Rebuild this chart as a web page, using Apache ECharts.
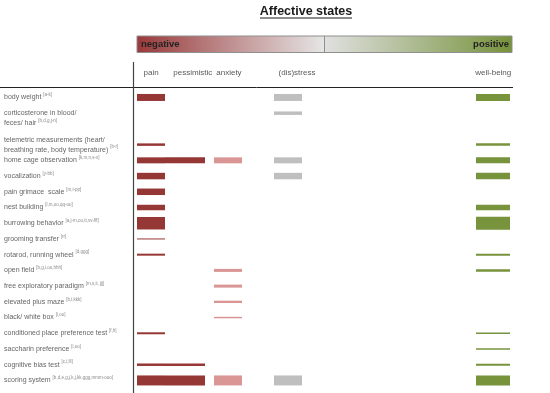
<!DOCTYPE html>
<html><head><meta charset="utf-8">
<script src="https://cdn.jsdelivr.net/npm/echarts@6/dist/echarts.min.js"></script>
<style>html,body{margin:0;padding:0;background:#fff}#c{width:550px;height:393px}</style>
</head><body><div id="c"></div>
<script>
// ---- data ----
const rowLabels = [
  'body weight',
  'corticosterone in blood/\nfeces/ hair',
  '',
  'telemetric measurements (heart/\nbreathing rate, body temperature)',
  'home cage observation',
  'vocalization',
  'pain grimace  scale',
  'nest building',
  'burrowing behavior',
  'grooming transfer',
  'rotarod, running wheel',
  'open field',
  'free exploratory paradigm',
  'elevated plus maze',
  'black/ white box',
  'conditioned place preference test',
  'saccharin preference',
  'cognitive bias test',
  'scoring system'
];
const rowRefs = [
  '[a-k]', '[b,d,g,j-n]', '', '[b-r]', '[k,m,n,s-x]', '[y-bb]', '[m,i-pp]',
  '[l,m,oo,qq-uu]', '[a,j-m,oo,tt,vv-fff]', '[rr]', '[d,ggg]', '[b,g,i,oo,hhh]',
  '[m,s,ii, jjj]', '[b,i,kkk]', '[i,oo]', '[f,h]', '[i,oo]', '[c,i,lll]',
  '[b,d,e,g,j,k,j,kk,ggg,mmm-ooo]'
];
const states = ['pain', 'pessimistic', 'anxiety', '(dis)stress', 'well-being'];
// valence range of each state on the negative (-100) .. positive (+100) scale
const valenceFrom = [-100, -85, -59, -27, 81];
const valenceTo   = [-85, -64, -44, -12, 99];
// evidence weight per row (null = no measure)
const painEvidence        = [7, null, null, 2.5, 6, 6.5, 6.5, 5.5, 12.5, 1, 2, null, null, null, null, 2, null, 2.5, 10];
const pessimisticEvidence = [null, null, null, null, 6, null, null, null, null, null, null, null, null, null, null, null, null, 2.5, 10];
const anxietyEvidence     = [null, null, null, null, 6, null, null, null, null, null, null, 3, 3, 2.3, 1.5, null, null, null, 10];
const distressEvidence    = [7, 3.5, null, null, 6, 6.5, null, null, null, null, null, null, null, null, null, null, null, null, 10];
const wellbeingEvidence   = [7, null, null, 2.5, 6, 6.5, null, 5.5, 13, null, 2, 2.5, null, null, null, 1.5, 1.5, 2, 10];
const evidence = [painEvidence, pessimisticEvidence, anxietyEvidence, distressEvidence, wellbeingEvidence];

// ---- styles ----
const stateColors = ['#953735', '#953735', '#D99694', '#BFBFBF', '#77933C'];
const PX_PER_UNIT = 1;
const FONT = 'Liberation Sans, Arial, sans-serif';
const GRID = { left: 137, right: 38, top: 89.6, bottom: 4.7 };
const headerNudge = [0, 8, 1, 9, 0];

const chart = echarts.init(document.getElementById('c'));

function renderItem(params, api) {
  const row = api.value(0);
  const h = api.value(1) * PX_PER_UNIT;
  const p0 = api.coord([api.value(2), row]);
  const p1 = api.coord([api.value(3), row]);
  const x0 = Math.round(p0[0]), x1 = Math.round(p1[0]);
  return {
    type: 'rect',
    shape: { x: x0, y: p0[1] - h / 2, width: x1 - x0, height: h },
    style: { fill: api.visual('color') }
  };
}

const series = states.map((s, si) => ({
  type: 'custom',
  name: s,
  renderItem,
  dimensions: ['row', 'weight', 'from', 'to'],
  encode: { x: [2, 3], y: 0 },
  itemStyle: { color: stateColors[si] },
  silent: true,
  data: evidence[si]
    .map((w, ri) => (w == null ? null : [ri, w, valenceFrom[si], valenceTo[si]]))
    .filter(d => d)
}));

chart.setOption({
  animation: false,
  grid: GRID,
  xAxis: { type: 'value', min: -100, max: 100, show: false },
  yAxis: {
    type: 'category',
    inverse: true,
    data: rowLabels,
    axisLine: { show: false },
    axisTick: { show: false },
    splitLine: { show: false },
    axisLabel: {
      interval: 0,
      align: 'left',
      margin: GRID.left - 4,
      formatter: function (value, index) {
        const name = rowLabels[index];
        if (!name) return '';
        const lines = name.split('\n');
        const ref = rowRefs[index];
        let out = lines.map((l, i) => '{t|' + l + (i === lines.length - 1 ? ' ' : '') + '}' + (i === lines.length - 1 && ref ? '{s|' + ref + '}' : ''));
        if (index === 1) out.unshift('{t| }');
        return out.join('\n');
      },
      rich: {
        t: { fontSize: 7, lineHeight: 10, color: '#666', fontFamily: FONT },
        s: { fontSize: 4.5, lineHeight: 6, verticalAlign: 'top', color: '#8a8a8a', fontFamily: FONT }
      }
    }
  },
  series
});

// ---- decorations tied to the valence scale ----
const X = v => chart.convertToPixel({ xAxisIndex: 0 }, v);
const xNeg = X(-100), xPos = X(100), xMid = X(0);
const barY = 36, barH = 16.5;
const graphics = [
  { type: 'text', x: 306, y: 11.5, style: { text: 'Affective states', font: 'bold 12.5px ' + FONT, fill: '#1a1a1a', align: 'center', verticalAlign: 'middle' } },
  { type: 'line', shape: { x1: 260, y1: 18, x2: 352, y2: 18 }, style: { stroke: '#1a1a1a', lineWidth: 1 } },
  { type: 'rect', shape: { x: xNeg, y: barY, width: xMid - xNeg, height: barH },
    style: { fill: new echarts.graphic.LinearGradient(0, 0, 1, 0, [{ offset: 0, color: '#99393a' }, { offset: 1, color: '#e6e6e6' }]) } },
  { type: 'rect', shape: { x: xMid, y: barY, width: xPos - xMid, height: barH },
    style: { fill: new echarts.graphic.LinearGradient(0, 0, 1, 0, [{ offset: 0, color: '#e0e0e0' }, { offset: 1, color: '#76923b' }]) } },
  { type: 'rect', shape: { x: xNeg, y: barY, width: xPos - xNeg, height: barH }, style: { fill: 'none', stroke: '#8f8f8f', lineWidth: 1 } },
  { type: 'line', shape: { x1: xMid, y1: barY, x2: xMid, y2: barY + barH }, style: { stroke: '#8f8f8f', lineWidth: 1 } },
  { type: 'text', x: xNeg + 4, y: barY + barH / 2, style: { text: 'negative', font: 'bold 9.5px ' + FONT, fill: '#222', align: 'left', verticalAlign: 'middle' } },
  { type: 'text', x: xPos - 3, y: barY + barH / 2, style: { text: 'positive', font: 'bold 9.5px ' + FONT, fill: '#222', align: 'right', verticalAlign: 'middle' } },
  { type: 'line', shape: { x1: 0, y1: 87.5, x2: xPos + 1, y2: 87.5 }, style: { stroke: '#222', lineWidth: 1 } },
  { type: 'line', shape: { x1: 133.5, y1: 62, x2: 133.5, y2: 393 }, style: { stroke: '#444', lineWidth: 1.2 } }
];
states.forEach((s, i) => {
  const cx = (X(valenceFrom[i]) + X(valenceTo[i])) / 2 + headerNudge[i];
  graphics.push({ type: 'text', x: cx, y: 72.5, style: { text: s, font: '8px ' + FONT, fill: '#595959', align: 'center', verticalAlign: 'middle' } });
});
chart.setOption({ graphic: graphics });
</script>
</body></html>
